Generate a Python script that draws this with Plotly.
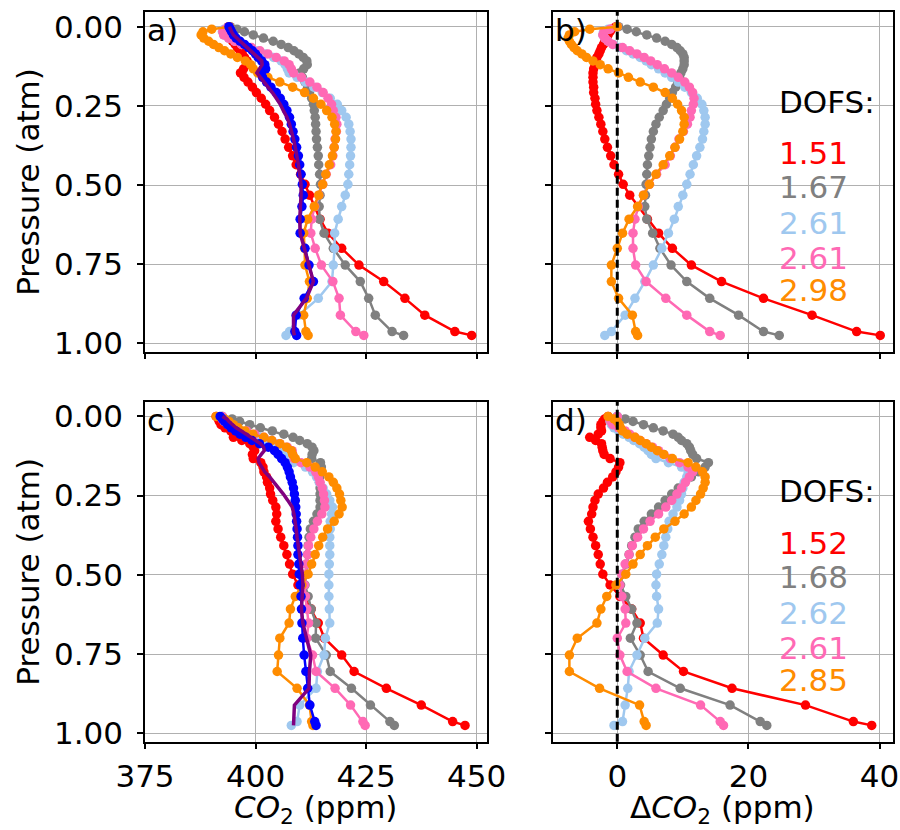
import numpy as np
import plotly.graph_objects as go

# Pressure levels (atm)
P = [0.0, 0.008, 0.016, 0.026, 0.036, 0.046, 0.056, 0.066, 0.076, 0.086, 0.097, 0.108,
     0.120, 0.133, 0.146, 0.160, 0.175, 0.191, 0.208, 0.226, 0.245, 0.265, 0.286, 0.308,
     0.331, 0.355, 0.381, 0.408, 0.436, 0.466, 0.498, 0.532, 0.568, 0.608, 0.652, 0.700,
     0.753, 0.805, 0.858, 0.911, 0.963, 0.975]

# Reference (truth) profiles, purple lines (ppm)
truth_a = [394.1, 394.3, 394.6, 395.0, 395.8, 396.7, 397.5, 398.3, 399.1, 399.8, 400.6, 401.4,
           401.5, 400.9, 400.3, 401.1, 402.0, 402.9, 403.8, 404.7, 405.6, 406.3, 407.1, 407.7,
           408.2, 408.6, 409.0, 409.4, 409.7, 410.0, 410.3, 410.3, 410.2, 410.0, 410.1, 411.1,
           412.1, 413.1, 411.5, 408.6, 408.6, 408.8]
truth_c = [392.5, 393.5, 394.0, 394.7, 395.6, 396.8, 397.9, 399.2, 400.2, 401.1, 401.8, 402.0,
           401.3, 400.6, 400.8, 401.5, 402.1, 403.2, 404.2, 405.3, 406.3, 407.3, 408.3, 408.7,
           409.0, 409.2, 409.4, 409.7, 410.0, 410.3, 410.6, 410.7, 410.6, 410.4, 410.7, 411.6,
           412.5, 412.2, 412.1, 408.8, 408.6, 408.6]

# Blue profiles (ppm)
blue_a = [394.0, 394.3, 394.6, 395.0, 395.6, 396.5, 397.5, 398.4, 399.3, 400.0, 400.6, 401.4,
          402.1, 402.3, 401.3, 401.6, 402.5, 403.5, 404.7, 405.6, 406.4, 407.1, 407.7, 408.1,
          408.5, 408.9, 409.3, 409.7, 410.0, 410.3, 410.6, 410.8, 410.5, 410.1, 410.1, 411.2,
          412.1, 413.1, 411.0, 409.2, 408.9, 409.3]
blue_c = [392.0, 392.5, 393.0, 393.7, 394.5, 395.5, 396.5, 397.8, 399.2, 400.9, 402.9, 404.3,
          405.1, 405.9, 406.7, 407.2, 407.6, 407.9, 408.3, 408.6, 408.8, 409.0, 409.1, 409.2,
          409.3, 409.4, 409.5, 409.6, 409.6, 409.8, 409.9, 410.1, 410.3, 410.4, 410.5, 410.7,
          411.0, 411.4, 411.8, 412.3, 413.4, 413.7]

# Delta CO2 (ppm), panel b
red_b = [-0.2, -0.9, -1.1, -1.4, -1.6, -1.9, -2.1, -2.4, -2.6, -2.8, -3.1, -3.3, -3.4, -3.6,
         -3.7, -3.7, -3.7, -3.6, -3.6, -3.4, -3.3, -3.1, -2.8, -2.5, -2.2, -1.9, -1.5, -1.0,
         -0.5, 0.2, 0.9, 1.9, 3.2, 4.6, 6.3, 8.4, 11.3, 15.9, 22.3, 29.7, 36.5, 40.1]
gray_b = [0.2, 1.5, 2.9, 4.5, 6.0, 7.3, 8.3, 9.1, 9.6, 10.0, 10.2, 10.2, 10.2, 10.0, 9.7, 9.5,
          9.2, 8.9, 8.4, 8.0, 7.5, 7.0, 6.4, 5.9, 5.5, 5.2, 5.0, 4.8, 4.6, 4.5, 4.4, 4.3, 4.2,
          4.5, 5.4, 6.5, 8.2, 10.6, 14.1, 18.5, 22.3, 24.7]
lblue_b = [0.0, -1.4, -2.1, -2.2, -1.9, -1.4, -0.6, 0.4, 1.4, 2.4, 3.5, 4.4, 5.2, 6.3, 7.3, 8.3,
           9.3, 10.3, 11.3, 12.2, 12.9, 13.2, 13.4, 13.4, 13.2, 13.0, 12.6, 12.1, 11.6, 11.1,
           10.6, 10.0, 9.3, 8.7, 7.8, 6.8, 5.5, 4.2, 2.7, 1.2, -0.9, -1.9]
pink_b = [0.0, -1.1, -2.0, -2.2, -1.9, -1.4, -0.7, 0.8, 1.9, 3.0, 4.1, 5.1, 6.1, 7.2, 8.3, 9.3,
          10.3, 11.0, 11.5, 11.7, 11.6, 11.3, 11.1, 10.7, 10.1, 9.4, 8.8, 8.1, 7.3, 6.0, 4.9,
          4.0, 3.2, 2.7, 2.4, 2.4, 2.8, 4.4, 7.4, 10.6, 14.1, 15.7]
orange_b = [0.0, -4.2, -6.5, -7.3, -7.5, -7.3, -7.0, -6.6, -6.1, -5.4, -4.7, -3.7, -2.6, -1.4,
            0.2, 1.7, 3.5, 5.5, 7.3, 8.4, 9.2, 9.8, 10.2, 10.2, 10.0, 9.5, 8.8, 8.0, 7.0, 5.9,
            4.9, 4.0, 3.1, 1.8, 0.8, 0.0, -0.9, -0.9, 0.2, 2.3, 2.8, 3.1]

# Delta CO2 (ppm), panel d
red_d = [-1.4, -1.9, -2.2, -2.5, -2.5, -2.4, -2.9, -4.2, -3.3, -2.4, -2.3, -2.2, -2.0, -1.1,
         0.4, 0.2, -0.2, -0.7, -1.5, -2.1, -2.9, -3.4, -3.7, -3.9, -4.4, -4.1, -3.7, -3.3,
         -2.9, -2.6, -2.2, -1.1, 0.4, 2.2, 3.5, 4.0, 7.0, 10.1, 17.5, 28.7, 36.0, 38.8]
gray_d = [0.0, 1.2, 2.4, 4.0, 5.5, 7.0, 8.5, 9.3, 9.8, 10.6, 11.0, 11.2, 11.5, 12.1, 13.9, 13.4,
          12.4, 11.3, 10.3, 9.3, 8.3, 7.3, 6.3, 5.2, 4.1, 3.2, 2.7, 2.2, 1.8, 1.3, 0.8, 0.5,
          1.3, 2.2, 3.0, 2.0, 3.5, 4.7, 9.6, 17.2, 21.8, 22.8]
lblue_d = [0.0, -1.0, -1.1, -0.9, -0.5, 0.2, 0.9, 1.8, 2.5, 3.4, 4.1, 4.7, 5.2, 5.9, 7.8, 9.8,
           10.8, 10.6, 10.2, 10.0, 9.8, 9.5, 9.1, 8.5, 7.9, 7.7, 7.4, 7.1, 6.8, 6.4, 6.0, 5.9,
           6.0, 6.3, 6.1, 4.2, 3.0, 1.8, 1.6, 1.2, 0.8, -0.5]
pink_d = [0.0, -1.1, -1.0, -0.7, 0.2, 1.2, 1.9, 2.7, 3.5, 4.4, 5.4, 6.3, 7.1, 8.1, 9.5, 10.8,
          11.5, 11.0, 10.4, 9.8, 9.1, 8.3, 7.4, 6.3, 5.0, 4.0, 3.1, 2.3, 1.8, 1.2, 0.7, 0.4,
          0.7, 1.2, 1.3, 0.0, 0.4, 1.5, 5.9, 12.7, 15.7, 16.2]
orange_d = [-1.4, -0.5, 0.0, 0.3, 0.5, 0.8, 1.5, 2.7, 3.5, 4.4, 5.2, 6.1, 7.1, 8.4, 10.8, 12.0,
            13.0, 13.4, 13.4, 13.1, 12.7, 12.0, 11.3, 10.2, 8.8, 7.1, 5.8, 4.6, 3.5, 2.4, 1.3,
            -0.2, -1.6, -2.5, -3.1, -6.1, -7.3, -7.3, -2.7, 3.4, 4.1, 4.4]

DOFS_b = ["1.51", "1.67", "2.61", "2.61", "2.98"]
DOFS_d = ["1.52", "1.68", "2.62", "2.61", "2.85"]
COLORS = ["#ff0000", "#808080", "#9fc8ef", "#ff69b4", "#ff8c00"]
BLUE = "#0000ff"
PURPLE = "#800080"

FONT = "DejaVu Sans"
FS = 31

fig = go.Figure()

deltas_b = [red_b, gray_b, lblue_b, pink_b, orange_b]
deltas_d = [red_d, gray_d, lblue_d, pink_d, orange_d]

def add_profile(x, xa, ya, color, markers=True, width=2.5):
    fig.add_trace(go.Scatter(
        x=x, y=P, xaxis=xa, yaxis=ya,
        mode="lines+markers" if markers else "lines",
        line=dict(color=color, width=width),
        marker=dict(color=color, size=9.5),
        showlegend=False, hoverinfo="skip"))

# Panel a and b
for d, c in zip(deltas_b, COLORS):
    add_profile(np.array(truth_a) + np.array(d), "x", "y", c)
add_profile(blue_a, "x", "y", BLUE)
add_profile(truth_a, "x", "y", PURPLE, markers=False, width=3.5)
for d, c in zip(deltas_b, COLORS):
    add_profile(d, "x2", "y2", c)

# Panel c and d
for d, c in zip(deltas_d, COLORS):
    add_profile(np.array(truth_c) + np.array(d), "x3", "y3", c)
add_profile(blue_c, "x3", "y3", BLUE)
add_profile(truth_c, "x3", "y3", PURPLE, markers=False, width=3.5)
for d, c in zip(deltas_d, COLORS):
    add_profile(d, "x4", "y4", c)

XL = [145 / 900, 486.7 / 900]
XR = [553 / 900, 892.7 / 900]
YT = [1 - 351.7 / 830, 1 - 12 / 830]
YB = [1 - 741.7 / 830, 1 - 401.7 / 830]

common = dict(ticks="outside", ticklen=6, tickwidth=1.5, tickcolor="black",
              showline=True, mirror=True, linecolor="black", linewidth=1.5,
              showgrid=True, gridcolor="#b0b0b0", gridwidth=1, zeroline=False,
              automargin=False,
              tickfont=dict(size=FS, color="black", family=FONT))

def xax(domain, rng, tv, labels, anchor):
    d = dict(common)
    d.update(domain=domain, range=rng, tickvals=tv, showticklabels=labels, anchor=anchor)
    return d

def yax(domain, labels, anchor):
    d = dict(common)
    d.update(domain=domain, range=[1.0265, -0.0464], tickvals=[0, 0.25, 0.5, 0.75, 1.0],
             tickformat=".2f", showticklabels=labels, anchor=anchor, ticklabelstandoff=8)
    return d

XRNG_L = [375, 452.3]
XRNG_R = [-9.8, 42.0]

fig.update_layout(
    width=900, height=830,
    margin=dict(l=0, r=0, t=0, b=0, autoexpand=False),
    paper_bgcolor="white", plot_bgcolor="white",
    font=dict(family=FONT, size=FS, color="black"),
    xaxis=xax(XL, XRNG_L, [375, 400, 425, 450], False, "y"),
    xaxis2=xax(XR, XRNG_R, [0, 20, 40], False, "y2"),
    xaxis3=xax(XL, XRNG_L, [375, 400, 425, 450], True, "y3"),
    xaxis4=xax(XR, XRNG_R, [0, 20, 40], True, "y4"),
    yaxis=yax(YT, True, "x"),
    yaxis2=yax(YT, False, "x2"),
    yaxis3=yax(YB, True, "x3"),
    yaxis4=yax(YB, False, "x4"),
)

# dashed zero lines
for xa, ya in [("x2", "y2"), ("x4", "y4")]:
    fig.add_shape(type="line", xref=xa, x0=0, x1=0, yref=f"{ya} domain", y0=0, y1=1,
                  line=dict(color="black", width=3, dash="8px,4px"), layer="above")

ann = []
for lab, xa, ya in [("a)", "x", "y"), ("b)", "x2", "y2"), ("c)", "x3", "y3"), ("d)", "x4", "y4")]:
    ann.append(dict(text=lab, xref=f"{xa} domain", yref=f"{ya} domain", x=0.0, y=1.0,
                    xanchor="left", yanchor="top", showarrow=False, height=32,
                    font=dict(size=FS, color="black", family=FONT)))

ys = [0.585, 0.485, 0.379, 0.276, 0.182]
for xa, ya, vals in [("x2", "y2", DOFS_b), ("x4", "y4", DOFS_d)]:
    ann.append(dict(text="DOFS:", xref=f"{xa} domain", yref=f"{ya} domain", x=0.659, y=0.736,
                    xanchor="left", yanchor="middle", showarrow=False, height=30,
                    font=dict(size=FS, color="black", family=FONT)))
    for v, c, yy in zip(vals, COLORS, ys):
        ann.append(dict(text=v, xref=f"{xa} domain", yref=f"{ya} domain", x=0.659, y=yy,
                        xanchor="left", yanchor="middle", showarrow=False, height=30,
                        font=dict(size=FS, color=c, family=FONT)))

# axis titles
for yc in [(12 + 351.7) / 2, (401.7 + 741.7) / 2]:
    ann.append(dict(text="Pressure (atm)", xref="paper", yref="paper", x=28 / 900,
                    y=1 - yc / 830, xanchor="center", yanchor="middle", textangle=-90,
                    showarrow=False, font=dict(size=FS, color="black", family=FONT)))
ann.append(dict(text="<i>CO</i><sub>2</sub> (ppm)", xref="paper", yref="paper",
                x=(145 + 486.7) / 2 / 900, y=1 - 809 / 830, xanchor="center", yanchor="middle",
                showarrow=False, height=32, font=dict(size=FS, color="black", family=FONT)))
ann.append(dict(text="Δ<i>CO</i><sub>2</sub> (ppm)", xref="paper", yref="paper",
                x=(553 + 892.7) / 2 / 900, y=1 - 809 / 830, xanchor="center", yanchor="middle",
                showarrow=False, height=32, font=dict(size=FS, color="black", family=FONT)))

fig.update_layout(annotations=ann)
fig.write_html("out.html")
